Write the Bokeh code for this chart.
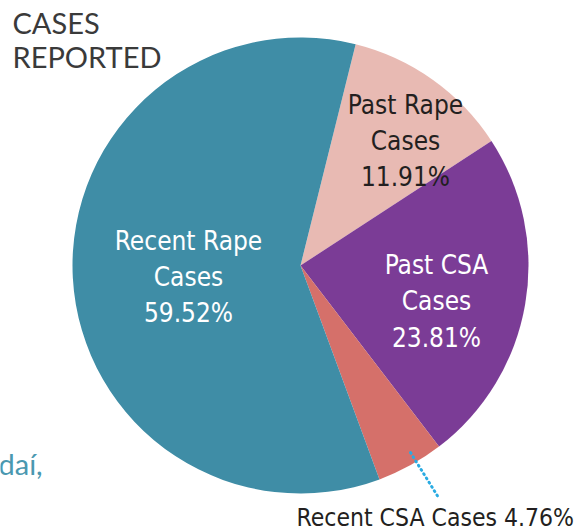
import math
from bokeh.plotting import figure
from bokeh.models import Range1d, ColumnDataSource
from bokeh.core.properties import value
from bokeh.embed import file_html
from bokeh.resources import INLINE

categories = ["Past Rape Cases", "Past CSA Cases", "Recent CSA Cases", "Recent Rape Cases"]
percents = [11.91, 23.81, 4.76, 59.52]
colors = ["#e8bab3", "#7b3c96", "#d5706a", "#3f8da6"]

W, H = 584, 532
p = figure(width=W, height=H, output_backend="svg", toolbar_location=None,
           x_range=Range1d(0, W), y_range=Range1d(0, H),
           min_border=0, outline_line_color=None)
p.axis.visible = False
p.grid.visible = False
p.background_fill_color = "white"

cx, cy, r = 300, 532 - 265, 228
start_deg = 76.0
starts, ends = [], []
a = start_deg
for pct in percents:
    b = a - pct / 100 * 360
    starts.append(math.radians(b))
    ends.append(math.radians(a))
    a = b

src = ColumnDataSource(dict(start=starts, end=ends, color=colors))
p.wedge(x=cx, y=cy, radius=r, start_angle="start", end_angle="end",
        fill_color="color", line_color=None, source=src)

font = value("'DejaVu Sans Condensed', 'Liberation Sans Narrow', 'Roboto Condensed', Roboto")

def label(lines, x, ys, color, size="26px"):
    p.text(x=[x] * len(lines), y=[532 - y for y in ys], text=lines,
           text_font=font, text_font_size=size, text_color=color,
           text_align="center", text_baseline="middle")

label(["Recent Rape", "Cases", f"{percents[3]:.2f}%"], 188, [240, 276, 312], "white")
label(["Past Rape", "Cases", f"{percents[0]:.2f}%"], 405, [104, 140, 176], "#231f20")
label(["Past CSA", "Cases", f"{percents[1]:.2f}%"], 436, [264, 300, 337], "white")

p.text(x=[296], y=[532 - 517], text=[f"Recent CSA Cases  {percents[2]:.2f}%"],
       text_font=font, text_font_size="24.5px", text_color="#231f20",
       text_align="left", text_baseline="middle")

p.line(x=[410, 438], y=[532 - 452, 532 - 497], line_color="#29abe2",
       line_width=3, line_dash="1 4", line_cap="round")

p.text(x=[12, 12], y=[532 - 22, 532 - 56], text=["CASES", "REPORTED"],
       text_font=value("Lato"), text_font_size="29px", text_color="#3a3a3a",
       text_align="left", text_baseline="middle")

p.text(x=[-2], y=[532 - 463], text=["daí,"], text_font=value("Lato"),
       text_font_size="29px", text_color="#4a98b0",
       text_align="left", text_baseline="middle")

open("out.html", "w").write(file_html(p, INLINE))
